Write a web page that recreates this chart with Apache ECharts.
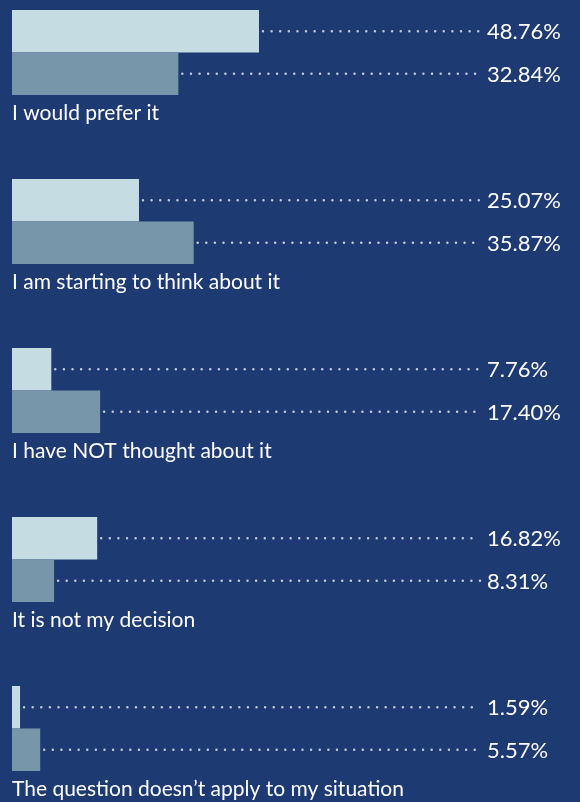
<!DOCTYPE html>
<html>
<head>
<meta charset="utf-8">
<script src="https://cdn.jsdelivr.net/npm/echarts@6/dist/echarts.min.js"></script>
<style>
  html, body { margin: 0; padding: 0; background: #1e3a72; }
  #chart { width: 580px; height: 802px; }
</style>
</head>
<body>
<div id="chart"></div>
<script>
// Survey answers, one group per answer, two bars per group
const categories = [
  'I would prefer it',
  'I am starting to think about it',
  'I have NOT thought about it',
  'It is not my decision',
  'The question doesn\u2019t apply to my situation'
];
const seriesA = [48.76, 25.07, 7.76, 16.82, 1.59];
const seriesB = [32.84, 35.87, 17.40, 8.31, 5.57];

const AXIS_MAX = 92.4;
const Y_MIN = -0.3107;
const Y_MAX = 4.4349;
const BAR_H = 42.5;
const FONT = 'Lato, "Noto Sans", sans-serif';
const colors = ['#c5dde2', '#7896aa'];

function makeRender(slot) {
  return function (params, api) {
    const value = api.value(0);
    const idx = api.value(1);
    const origin = api.coord([0, idx]);
    const end = api.coord([value, idx]);
    const right = api.coord([AXIS_MAX, idx])[0];
    const y0 = origin[1] - BAR_H + slot * BAR_H;
    const midY = y0 + BAR_H / 2;
    const children = [
      {
        type: 'rect',
        shape: { x: origin[0], y: y0, width: end[0] - origin[0], height: BAR_H },
        style: { fill: colors[slot] }
      },
      {
        type: 'line',
        shape: { x1: end[0] + 4, y1: midY, x2: right, y2: midY },
        style: { stroke: '#c3cad8', lineWidth: 2.5, lineDash: [0.01, 8.6], lineCap: 'round' }
      },
      {
        type: 'text',
        x: right + 7,
        y: midY + 1,
        style: {
          text: value.toFixed(2) + '%',
          fill: '#ffffff',
          font: '22px ' + FONT,
          verticalAlign: 'middle',
          align: 'left'
        }
      }
    ];
    if (slot === 1) {
      children.push({
        type: 'text',
        x: origin[0],
        y: y0 + BAR_H + 18,
        style: {
          text: categories[idx],
          fill: '#ffffff',
          font: '21px ' + FONT,
          verticalAlign: 'middle',
          align: 'left'
        }
      });
    }
    return { type: 'group', children: children };
  };
}

const chart = echarts.init(document.getElementById('chart'), null, { renderer: 'canvas' });
chart.setOption({
  backgroundColor: '#1e3a72',
  animation: false,
  grid: { left: 12, right: 100, top: 0, bottom: 0 },
  xAxis: {
    type: 'value', min: 0, max: AXIS_MAX,
    show: false
  },
  yAxis: {
    type: 'value', min: Y_MIN, max: Y_MAX, inverse: true,
    show: false
  },
  series: [
    {
      type: 'custom',
      renderItem: makeRender(0),
      encode: { x: 0, y: 1 },
      data: seriesA.map((v, i) => [v, i])
    },
    {
      type: 'custom',
      renderItem: makeRender(1),
      encode: { x: 0, y: 1 },
      data: seriesB.map((v, i) => [v, i])
    }
  ]
});
</script>
</body>
</html>
